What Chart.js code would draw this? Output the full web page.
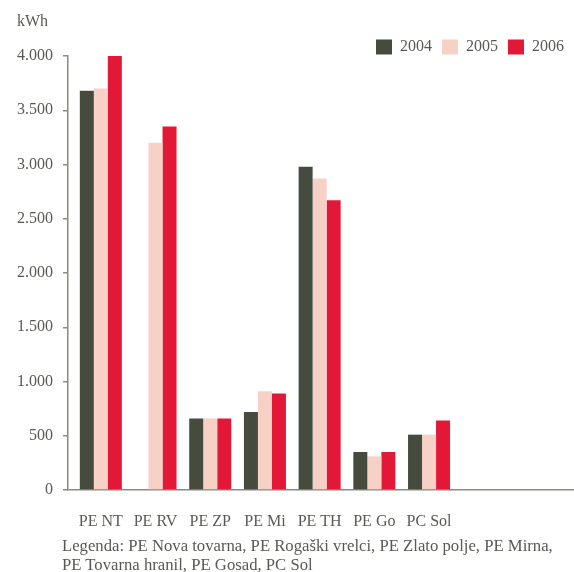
<!DOCTYPE html>
<html>
<head>
<meta charset="utf-8">
<script src="https://cdn.jsdelivr.net/npm/chart.js@4.4.1/dist/chart.umd.min.js"></script>
<style>
  body { margin: 0; background: #fff; }
  .wrap { position: relative; width: 574px; height: 572px; }
  .caption {
    position: absolute; left: 62px; top: 536px;
    font-family: "Liberation Serif", serif; font-size: 16.7px; line-height: 19px;
    color: #595954; white-space: nowrap;
  }
</style>
</head>
<body>
<div class="wrap">
  <canvas id="energyChart" width="574" height="572"></canvas>
  <div class="caption">Legenda: PE Nova tovarna, PE Rogaški vrelci, PE Zlato polje, PE Mirna,<br>PE Tovarna hranil, PE Gosad, PC Sol</div>
</div>
<script>
const categories = ['PE NT', 'PE RV', 'PE ZP', 'PE Mi', 'PE TH', 'PE Go', 'PC Sol'];
const years = ['2004', '2005', '2006'];
const values2004 = [3680, null, 660, 720, 2980, 350, 510];
const values2005 = [3700, 3200, 660, 910, 2870, 310, 510];
const values2006 = [4000, 3350, 660, 890, 2670, 350, 640];
const yTicks = [0, 500, 1000, 1500, 2000, 2500, 3000, 3500, 4000];

const textColor = '#595954';
const axisColor = '#8a8a80';
const font = { family: '"Liberation Serif", serif', size: 16, weight: 'normal' };

const toPoints = arr => arr.map((v, i) => ({ x: i, y: v }));
const thousands = v => String(v).replace(/\B(?=(\d{3})+(?!\d))/g, '.');

const ctx = document.getElementById('energyChart').getContext('2d');

new Chart(ctx, {
    type: 'bar',
    data: {
        datasets: [
            { label: years[0], data: toPoints(values2004), backgroundColor: '#454b3d' },
            { label: years[1], data: toPoints(values2005), backgroundColor: '#f7d0c6' },
            { label: years[2], data: toPoints(values2006), backgroundColor: '#e31837' }
        ]
    },
    options: {
        responsive: false,
        animation: false,
        categoryPercentage: 0.768,
        barPercentage: 1,
        layout: { padding: { left: 17, right: 0, top: 0, bottom: 41 } },
        plugins: {
            title: {
                display: true,
                text: 'kWh',
                align: 'start',
                color: textColor,
                font: font,
                padding: { top: 12, bottom: -2.2 }
            },
            legend: {
                position: 'top',
                align: 'end',
                maxHeight: 27,
                labels: {
                    color: textColor,
                    font: font,
                    boxWidth: 16,
                    boxHeight: 15,
                    padding: 10
                }
            },
            tooltip: { enabled: false }
        },
        scales: {
            x: {
                type: 'linear',
                offset: false,
                min: -0.6,
                max: 8.65,
                afterFit: axis => { axis.height = 41; },
                grid: { drawOnChartArea: false, drawTicks: false },
                border: { display: true, color: axisColor, width: 1.5 },
                ticks: {
                    stepSize: 1,
                    includeBounds: false,
                    autoSkip: false,
                    maxRotation: 0,
                    padding: 22,
                    color: textColor,
                    font: font,
                    callback: v => (Number.isInteger(v) && categories[v]) ? categories[v] : ''
                }
            },
            y: {
                min: 0,
                max: 4000,
                afterFit: axis => { axis.width = 51; },
                afterBuildTicks: axis => { axis.ticks = yTicks.map(v => ({ value: v })); },
                grid: { drawOnChartArea: false, drawTicks: true, tickLength: 5, color: axisColor, lineWidth: 1.5 },
                border: { display: true, color: axisColor, width: 1.5 },
                ticks: {
                    padding: 10,
                    color: textColor,
                    font: font,
                    callback: v => thousands(v)
                }
            }
        }
    }
});
</script>
</body>
</html>
